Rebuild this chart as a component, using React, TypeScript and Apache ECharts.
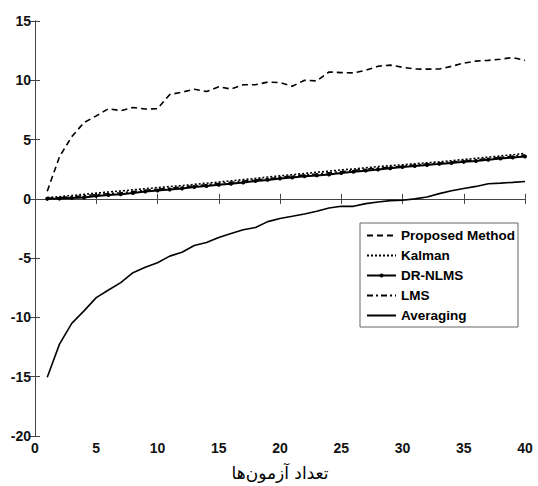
import React, { useEffect, useRef } from "react";
import * as echarts from "echarts";

const trials = [1, 2, 3, 4, 5, 6, 7, 8, 9, 10, 11, 12, 13, 14, 15, 16, 17, 18, 19, 20, 21, 22, 23, 24, 25, 26, 27, 28, 29, 30, 31, 32, 33, 34, 35, 36, 37, 38, 39, 40];

const proposed = [0.65, 3.55, 5.25, 6.43, 7.0, 7.6, 7.44, 7.7, 7.58, 7.6, 8.8, 9.0, 9.25, 9.05, 9.45, 9.26, 9.62, 9.62, 9.85, 9.8, 9.5, 10.0, 9.95, 10.7, 10.65, 10.62, 10.85, 11.18, 11.28, 11.1, 10.95, 10.94, 10.95, 11.18, 11.45, 11.62, 11.68, 11.78, 11.92, 11.68];
const kalman = [0.12, 0.18, 0.28, 0.38, 0.48, 0.58, 0.66, 0.76, 0.86, 0.95, 1.04, 1.12, 1.22, 1.32, 1.42, 1.52, 1.62, 1.72, 1.84, 1.94, 2.04, 2.14, 2.24, 2.34, 2.44, 2.52, 2.62, 2.72, 2.8, 2.88, 2.96, 3.04, 3.12, 3.22, 3.32, 3.42, 3.52, 3.62, 3.72, 3.84];
const drnlms = [0.0, 0.02, 0.08, 0.12, 0.25, 0.32, 0.38, 0.5, 0.62, 0.7, 0.78, 0.88, 1.0, 1.08, 1.18, 1.28, 1.38, 1.5, 1.6, 1.72, 1.8, 1.9, 1.98, 2.05, 2.18, 2.28, 2.38, 2.48, 2.58, 2.68, 2.78, 2.85, 2.95, 3.02, 3.12, 3.2, 3.3, 3.4, 3.48, 3.58];
const lms = [0.05, 0.1, 0.18, 0.26, 0.36, 0.44, 0.52, 0.62, 0.72, 0.82, 0.9, 1.0, 1.1, 1.2, 1.3, 1.4, 1.5, 1.6, 1.7, 1.82, 1.92, 2.02, 2.1, 2.2, 2.3, 2.4, 2.5, 2.58, 2.68, 2.76, 2.86, 2.94, 3.02, 3.1, 3.2, 3.3, 3.4, 3.5, 3.6, 3.7];
const averaging = [-15.05, -12.25, -10.5, -9.45, -8.33, -7.69, -7.07, -6.23, -5.76, -5.39, -4.83, -4.5, -3.93, -3.68, -3.25, -2.93, -2.6, -2.42, -1.92, -1.66, -1.47, -1.27, -1.05, -0.77, -0.63, -0.63, -0.4, -0.26, -0.15, -0.12, 0.0, 0.16, 0.44, 0.69, 0.88, 1.05, 1.28, 1.33, 1.39, 1.47];

const seriesNames = ["Proposed Method", "Kalman", "DR-NLMS", "LMS", "Averaging"];
const xAxisName = "تعداد آزمون‌ها";

const pairs = (vals: number[]) => trials.map((t, i) => [t, vals[i]]);

export default function App() {
  const ref = useRef<HTMLDivElement>(null);
  useEffect(() => {
    if (!ref.current) return;
    const chart = echarts.init(ref.current, null, { renderer: "svg" });
    const axisLine = { show: true, lineStyle: { color: "#444", width: 1 } };
    const tickStyle = { show: true, inside: true, length: 5, lineStyle: { color: "#444" } };
    const labelStyle = { color: "#111", fontWeight: "bold" as const, fontSize: 14, fontFamily: "Liberation Sans, Arial, sans-serif" };
    chart.setOption({
      animation: false,
      backgroundColor: "#fff",
      grid: { left: 35, right: 13, top: 21, bottom: 49, containLabel: false },
      legend: {
        data: seriesNames.map((n, i) => ({
          name: n,
          itemStyle: i === 2 ? { opacity: 1, color: "#000" } : { opacity: 0 },
        })),
        orient: "vertical",
        left: 360,
        top: 223,
        backgroundColor: "#fff",
        borderColor: "#666",
        borderWidth: 1,
        borderRadius: 0,
        padding: [5, 3, 4, 6],
        itemWidth: 29,
        itemHeight: 5,
        itemGap: 5,
        textStyle: { ...labelStyle, fontSize: 13.5, color: "#000", lineHeight: 15 },
      },
      xAxis: [
        {
          type: "value", min: 0, max: 40, interval: 5,
          axisLine, axisTick: tickStyle, splitLine: { show: false },
          axisLabel: { ...labelStyle, margin: 5 },
          name: xAxisName, nameLocation: "middle", nameGap: 28,
          nameTextStyle: { fontSize: 17, color: "#000", fontFamily: "DejaVu Serif, Liberation Serif, DejaVu Sans, serif" },
        },
        {
          type: "value", min: 0, max: 40, interval: 5, position: "top",
          axisLine, axisTick: tickStyle, splitLine: { show: false }, axisLabel: { show: false },
        },
      ],
      yAxis: [
        {
          type: "value", min: -20, max: 15, interval: 5,
          axisLine, axisTick: tickStyle, splitLine: { show: false },
          axisLabel: { ...labelStyle, margin: 4 },
        },
        {
          type: "value", min: -20, max: 15, interval: 5, position: "right",
          axisLine, axisTick: tickStyle, splitLine: { show: false }, axisLabel: { show: false },
        },
      ],
      series: [
        {
          name: seriesNames[0], type: "line", data: pairs(proposed), showSymbol: false, symbol: "none",
          lineStyle: { color: "#000", width: 1.6, type: [6, 4] }, itemStyle: { color: "#000" },
        },
        {
          name: seriesNames[1], type: "line", data: pairs(kalman), showSymbol: false, symbol: "none",
          lineStyle: { color: "#000", width: 1.6, type: [2, 2] }, itemStyle: { color: "#000" },
        },
        {
          name: seriesNames[2], type: "line", data: pairs(drnlms), symbol: "circle", symbolSize: 4, showSymbol: true,
          lineStyle: { color: "#000", width: 2 }, itemStyle: { color: "#000" },
        },
        {
          name: seriesNames[3], type: "line", data: pairs(lms), showSymbol: false, symbol: "none",
          lineStyle: { color: "#000", width: 1.5, type: [6, 3, 2, 3] }, itemStyle: { color: "#000" },
        },
        {
          name: seriesNames[4], type: "line", data: pairs(averaging), showSymbol: false, symbol: "none",
          lineStyle: { color: "#000", width: 1.6 }, itemStyle: { color: "#000" },
        },
      ],
    });
    return () => chart.dispose();
  }, []);
  return <div ref={ref} style={{ width: 538, height: 486, position: "absolute", left: 0, top: 0 }} />;
}
